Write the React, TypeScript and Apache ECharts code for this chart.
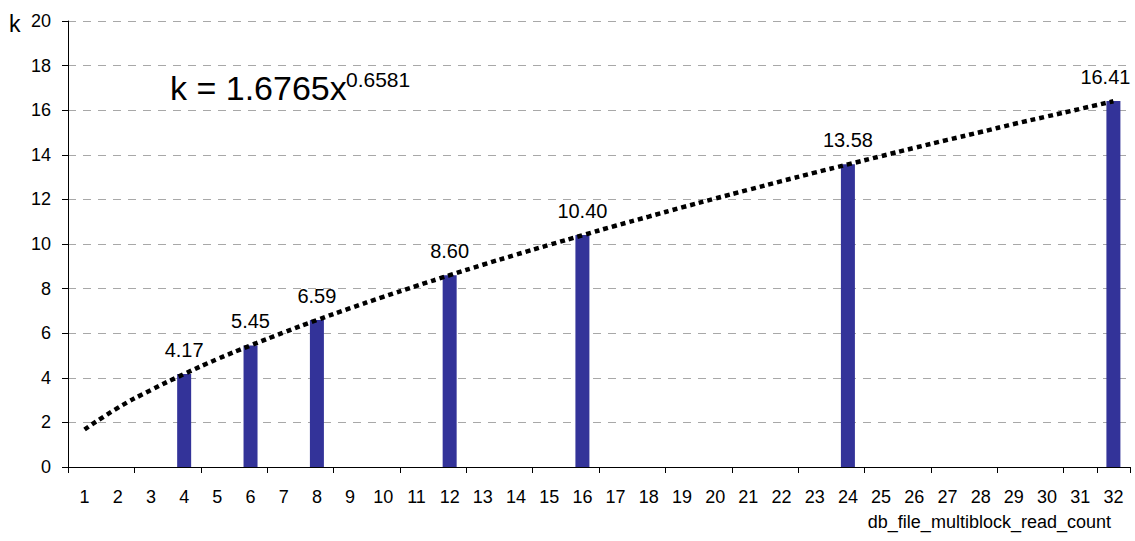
import React, { useEffect, useRef } from "react";
import * as echarts from "echarts";

const categories: string[] = Array.from({ length: 32 }, (_, i) => String(i + 1));
const barCategories: number[] = [4, 6, 8, 12, 16, 24, 32];
const barValues: number[] = [4.17, 5.45, 6.59, 8.6, 10.4, 13.58, 16.41];
// Power trend line k = 1.6765x^0.6581, read at each category
const trendValues: number[] = [
  1.68, 2.65, 3.45, 4.17, 4.84, 5.45, 6.03, 6.59, 7.12, 7.63, 8.12, 8.6, 9.07, 9.52, 9.96, 10.39,
  10.82, 11.23, 11.64, 12.04, 12.43, 12.82, 13.2, 13.57, 13.94, 14.31, 14.67, 15.02, 15.38, 15.72,
  16.06, 16.4,
];
const yTicks = { min: 0, max: 20, interval: 2 };
const xAxisName = "db_file_multiblock_read_count";
const yAxisName = "k";
const formulaMain = "k = 1.6765x";
const formulaExp = "0.6581";

const FONT = "'Liberation Sans', Arial, sans-serif";

export default function App() {
  const ref = useRef<HTMLDivElement>(null);
  useEffect(() => {
    if (!ref.current) return;
    const chart = echarts.init(ref.current, undefined, { renderer: "svg" });
    const barData = categories.map((c) => {
      const idx = barCategories.indexOf(Number(c));
      if (idx < 0) return null;
      const item: any = { value: barValues[idx] };
      if (idx === barCategories.length - 1) item.label = { offset: [-8, 0] };
      return item;
    });
    chart.setOption({
      animation: false,
      textStyle: { fontFamily: FONT },
      grid: { left: 68, right: 5, top: 21, bottom: 74 },
      xAxis: {
        type: "category",
        data: categories,
        boundaryGap: true,
        axisLine: { show: true, lineStyle: { color: "#000", width: 1 } },
        axisTick: { show: true, interval: 1, length: 6, lineStyle: { color: "#000" } },
        axisLabel: { interval: 0, fontSize: 18, color: "#000", margin: 21, fontFamily: FONT },
        splitLine: { show: false },
      },
      yAxis: {
        type: "value",
        min: yTicks.min,
        max: yTicks.max,
        interval: yTicks.interval,
        axisLine: { show: true, lineStyle: { color: "#000", width: 1 } },
        axisTick: { show: true, length: 6, lineStyle: { color: "#000" } },
        axisLabel: { fontSize: 18, color: "#000", margin: 17, fontFamily: FONT },
        splitLine: { show: true, lineStyle: { color: "#a8a8a8", type: [8, 7], width: 1 } },
      },
      series: [
        {
          type: "bar",
          data: barData,
          barWidth: 14,
          itemStyle: { color: "#333399" },
          label: {
            show: true,
            position: "top",
            distance: 14,
            fontSize: 20,
            color: "#000",
            fontFamily: FONT,
            formatter: (p: any) => Number(p.value).toFixed(2),
          },
          z: 2,
        },
        {
          type: "line",
          data: trendValues,
          symbol: "none",
          smooth: true,
          lineStyle: { color: "#000", width: 4.5, type: [5, 4], cap: "butt" },
          z: 3,
        },
      ],
      graphic: [
        {
          type: "text",
          left: 9,
          top: 12,
          style: { text: yAxisName, fontSize: 23, fill: "#000", fontFamily: FONT },
        },
        {
          type: "text",
          x: 170,
          y: 88,
          style: {
            text: formulaMain,
            fontSize: 34,
            fill: "#000",
            fontFamily: FONT,
            align: "left",
            verticalAlign: "middle",
          },
        },
        {
          type: "text",
          x: 346,
          y: 79,
          style: {
            text: formulaExp,
            fontSize: 21,
            fill: "#000",
            fontFamily: FONT,
            align: "left",
            verticalAlign: "middle",
          },
        },
        {
          type: "text",
          x: 1111,
          y: 522,
          style: {
            text: xAxisName,
            fontSize: 18,
            fill: "#000",
            fontFamily: FONT,
            align: "right",
            verticalAlign: "middle",
          },
        },
      ],
    });
    return () => chart.dispose();
  }, []);
  return (
    <div
      ref={ref}
      style={{ position: "fixed", left: 0, top: 0, width: 1135, height: 541, background: "#fff" }}
    />
  );
}
